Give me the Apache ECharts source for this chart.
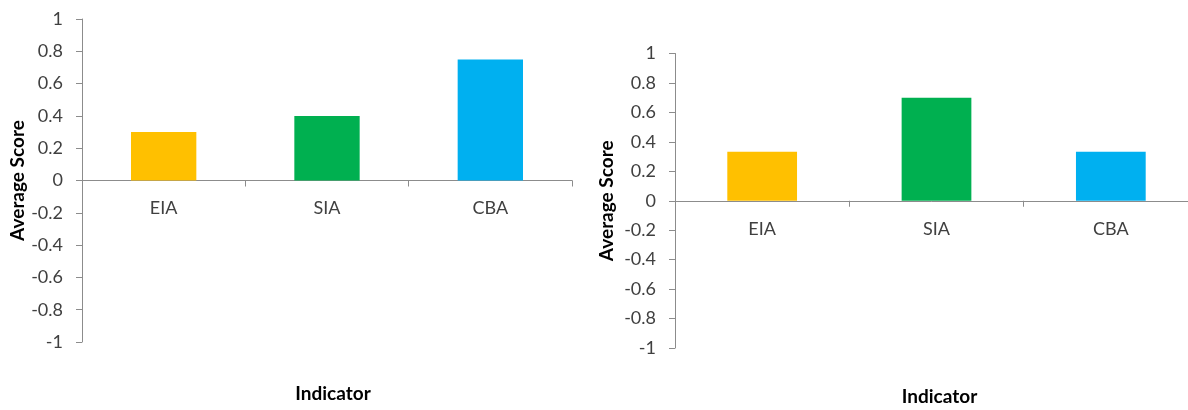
<!DOCTYPE html>
<html>
<head>
<meta charset="utf-8">
<script src="https://cdn.jsdelivr.net/npm/echarts@6/dist/echarts.min.js"></script>
<style>
  html, body { margin: 0; padding: 0; background: #fff; }
  #chart { width: 1188px; height: 410px; }
</style>
</head>
<body>
<div id="chart"></div>
<script>
// Indicator categories shared by both panels
const categories = ['EIA', 'SIA', 'CBA'];
// Average score per indicator, left and right panels
const leftScores = [0.3, 0.4, 0.75];
const rightScores = [0.333, 0.7, 0.333];
// Bar colours per indicator
const barColors = ['#FFC000', '#00B050', '#00B0F0'];
// Value axis tick labels from -1 to 1
const yTickLabels = ['-1', '-0.8', '-0.6', '-0.4', '-0.2', '0', '0.2', '0.4', '0.6', '0.8', '1'];

const FONT = 'Lato, "Open Sans", sans-serif';
const AXIS_GREY = '#8c8c8c';
const LABEL_COLOR = '#404040';

// Panel geometry: the category axis sits on the zero line, half way down
const panels = [
  { left: 82, top: 19, width: 490, height: 323, yNameGap: 53, xNameGap: 204, xNameShift: 12 },
  { left: 675, top: 53.5, width: 523, height: 294.5, yNameGap: 59, xNameGap: 187, xNameShift: 6 }
];

function yAxisFor(gridIndex) {
  return {
    type: 'value',
    gridIndex: gridIndex,
    min: -1,
    max: 1,
    interval: 0.2,
    name: 'Average Score',
    nameLocation: 'middle',
    nameRotate: 90,
    nameGap: panels[gridIndex].yNameGap,
    nameTextStyle: { fontFamily: FONT, fontSize: 19, fontWeight: 'bold', color: '#000' },
    axisLine: { show: true, lineStyle: { color: AXIS_GREY, width: 1 } },
    axisTick: { show: true, length: 6, lineStyle: { color: AXIS_GREY } },
    splitLine: { show: false },
    axisLabel: {
      margin: 19,
      fontFamily: FONT,
      fontSize: 18,
      color: LABEL_COLOR,
      formatter: function (v) { return yTickLabels[Math.round((v + 1) / 0.2)]; }
    }
  };
}

function xAxisFor(gridIndex) {
  const p = panels[gridIndex];
  return {
    type: 'category',
    gridIndex: gridIndex,
    data: categories,
    // lift the whole axis (line, ticks, labels) up to the zero line
    offset: -p.height / 2,
    name: 'Indicator',
    nameLocation: 'middle',
    nameGap: p.xNameGap,
    nameTextStyle: {
      fontFamily: FONT, fontSize: 19, fontWeight: 'bold', color: '#000',
      padding: [0, 0, 0, p.xNameShift]
    },
    axisLine: { show: true, onZero: false, lineStyle: { color: AXIS_GREY, width: 1 } },
    axisTick: { show: true, length: 6, alignWithLabel: false, lineStyle: { color: AXIS_GREY } },
    axisLabel: { margin: 19, fontFamily: FONT, fontSize: 18, color: LABEL_COLOR },
    splitLine: { show: false }
  };
}

function barSeries(index, values) {
  return {
    type: 'bar',
    xAxisIndex: index,
    yAxisIndex: index,
    barCategoryGap: '60%',
    data: values.map(function (v, i) {
      return { value: v, itemStyle: { color: barColors[i] } };
    })
  };
}

const chart = echarts.init(document.getElementById('chart'), null, { renderer: 'canvas' });
chart.setOption({
  animation: false,
  backgroundColor: '#ffffff',
  grid: panels.map(function (p) {
    return {
      left: p.left, top: p.top, width: p.width, height: p.height,
      containLabel: false, outerBoundsMode: 'none'
    };
  }),
  xAxis: [xAxisFor(0), xAxisFor(1)],
  yAxis: [yAxisFor(0), yAxisFor(1)],
  series: [barSeries(0, leftScores), barSeries(1, rightScores)]
});
</script>
</body>
</html>
